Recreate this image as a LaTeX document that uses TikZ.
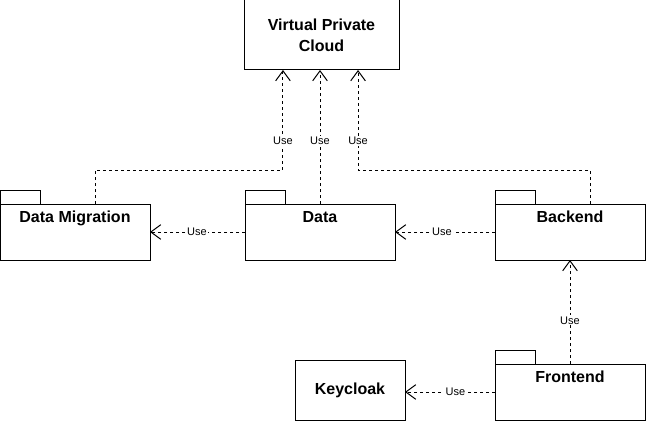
\documentclass[tikz,border=0pt]{standalone}
\usepackage{fontspec}
\setmainfont{Liberation Sans}
\usetikzlibrary{arrows.meta}
\tikzset{
  every picture/.style={line join=miter, >=Stealth},
  box/.style={draw, line width=0.75pt, inner sep=0pt, outer sep=0pt},
  pkg/.style={box, minimum width=112.5pt, minimum height=42pt},
  pkgtitle/.style={anchor=base, font=\fontsize{12}{14}\selectfont\bfseries},
  use/.style={line width=0.75pt, dash pattern=on 2.25pt off 2.25pt,
    -{Straight Barb[length=7.5pt,width=11pt,line width=0.75pt]}},
  lbl/.style={fill=white, inner sep=1pt, font=\fontsize{8.25}{10}\selectfont},
}

\begin{document}
\begin{tikzpicture}[x=0.75pt,y=-0.75pt]
\useasboundingbox (0,0) rectangle (646,435);
% boxes
\node[box, minimum width=116.25pt, minimum height=52.5pt, align=center,
  font=\fontsize{12}{15.5}\selectfont\bfseries] (vpc) at (321.5,35) {Virtual Private\\Cloud};
\node[box, minimum width=82.5pt, minimum height=45pt,
  font=\fontsize{12}{14}\selectfont\bfseries] (keycloak) at (350,390) {Keycloak};
% packages
\node[pkg] (dm) at (75,232) {};
\node[pkg] (data) at (320,232) {};
\node[pkg] (backend) at (570,232) {};
\node[pkg] (frontend) at (570,392) {};
\foreach \p in {dm,data,backend,frontend}
  \draw[line width=0.75pt] (\p.north west) rectangle ++(40,-14);
\node[pkgtitle] (dmt) at ([yshift=-13.5pt]dm.north) {Data Migration};
\node[pkgtitle] (datat) at ([yshift=-13.5pt]data.north) {Data};
\node[pkgtitle] (backendt) at ([yshift=-13.5pt]backend.north) {Backend};
\node[pkgtitle] (frontendt) at ([yshift=-13.5pt]frontend.north) {Frontend};
% dependencies
\draw[use] ([xshift=15pt]dm.north) -- ++(0,-34) -| ([xshift=-28.9pt]vpc.south) node[lbl,pos=0.645]{Use};
\draw[use] (data.north) -- (data.north |- vpc.south) node[lbl,pos=0.47]{Use};
\draw[use] ([xshift=15pt]backend.north) -- ++(0,-34) -| ([xshift=27.4pt]vpc.south) node[lbl,pos=0.645]{Use};
\draw[use] (data.west) -- (dm.east) node[lbl,pos=0.505]{Use};
\draw[use] (backend.west) -- (data.east) node[lbl,pos=0.53]{Use};
\draw[use] (frontend.north) -- (backend.south) node[lbl,pos=0.42]{Use};
\draw[use] (frontend.west) -- (frontend.west -| keycloak.east) node[lbl,pos=0.44]{Use};
\end{tikzpicture}
\end{document}
